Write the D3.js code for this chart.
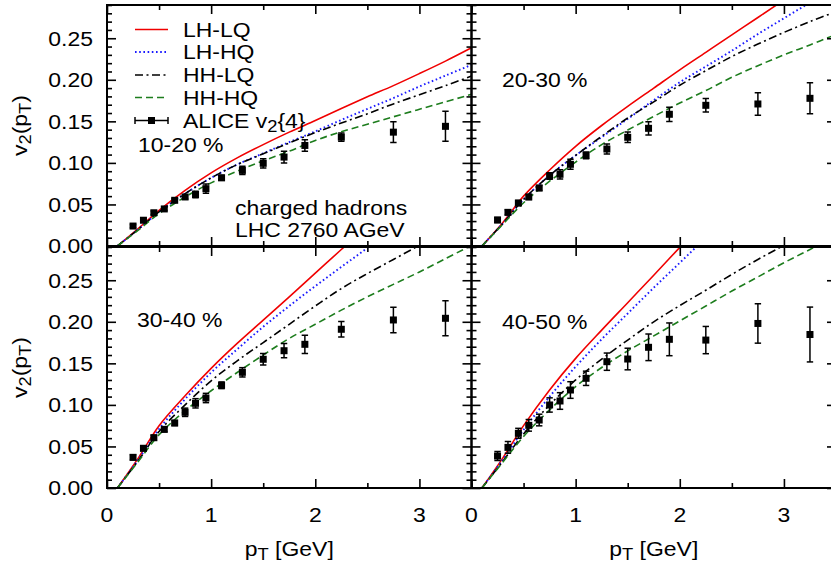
<!DOCTYPE html>
<html>
<head>
<meta charset="utf-8">
<script src="https://cdn.jsdelivr.net/npm/d3@7"></script>
<style>
  body { margin: 0; background: #fff; }
  text { font-family: "Liberation Sans", Arial, Helvetica, sans-serif; fill: #000; }
</style>
</head>
<body>
<svg id="chart" width="831" height="565"></svg>
<script>
// ALICE v2{4} transverse-momentum bins (GeV)
const alicePT = [0.25, 0.35, 0.45, 0.55, 0.65, 0.75, 0.85, 0.95, 1.1, 1.3, 1.5, 1.7, 1.9, 2.25, 2.75, 3.25];

// ALICE v2{4} values and errors per centrality class
const alice1020 = [0.024, 0.031, 0.040, 0.0446, 0.055, 0.059, 0.062, 0.069, 0.082, 0.091, 0.0995, 0.107, 0.121, 0.131, 0.137, 0.144];
const err1020   = [0.002, 0.002, 0.002, 0.002, 0.002, 0.0025, 0.004, 0.0055, 0.003, 0.005, 0.0055, 0.007, 0.007, 0.005, 0.0125, 0.018];
const alice2030 = [0.0313, 0.0405, 0.0517, 0.059, 0.0698, 0.0842, 0.0863, 0.0983, 0.109, 0.1167, 0.1308, 0.1416, 0.1585, 0.1693, 0.1709, 0.1777];
const err2030   = [0.003, 0.003, 0.003, 0.003, 0.003, 0.004, 0.0056, 0.006, 0.004, 0.006, 0.0064, 0.008, 0.0086, 0.0082, 0.0136, 0.0187];
const alice3040 = [0.0369, 0.0478, 0.0605, 0.0706, 0.0782, 0.0911, 0.1019, 0.1083, 0.1236, 0.1392, 0.1549, 0.1652, 0.1729, 0.191, 0.2022, 0.2042];
const err3040   = [0.003, 0.003, 0.003, 0.003, 0.003, 0.005, 0.0056, 0.0056, 0.004, 0.0056, 0.007, 0.0086, 0.011, 0.0094, 0.0154, 0.021];
const alice4050 = [0.0385, 0.0489, 0.0658, 0.0754, 0.0818, 0.0999, 0.1047, 0.1179, 0.132, 0.152, 0.1552, 0.1693, 0.1789, 0.178, 0.198, 0.1847];
const err4050   = [0.0054, 0.007, 0.006, 0.007, 0.007, 0.0086, 0.01, 0.01, 0.0086, 0.0104, 0.013, 0.016, 0.0197, 0.0164, 0.0237, 0.033];

// hydro calculations, sampled on a common pT grid
const curvePT = [0.1, 0.3, 0.5, 0.75, 1.0, 1.25, 1.5, 1.75, 2.0, 2.25, 2.5, 2.75, 3.0, 3.25, 3.5];

const lhlq1020 = [0, 0.021, 0.043, 0.067, 0.088, 0.106, 0.122, 0.137, 0.151, 0.1655, 0.1795, 0.193, 0.2075, 0.2225, 0.2385];
const lhhq1020 = [0, 0.020, 0.041, 0.063, 0.082, 0.098, 0.1115, 0.125, 0.138, 0.1517, 0.165, 0.178, 0.192, 0.205, 0.218];
const hhlq1020 = [0, 0.020, 0.041, 0.063, 0.082, 0.098, 0.111, 0.124, 0.1365, 0.148, 0.159, 0.171, 0.182, 0.193, 0.2045];
const hhhq1020 = [0, 0.019, 0.039, 0.059, 0.076, 0.090, 0.1025, 0.114, 0.127, 0.1375, 0.1465, 0.1555, 0.1645, 0.1735, 0.1825];

const lhlq2030 = [0, 0.028, 0.060, 0.0915, 0.120, 0.145, 0.168, 0.190, 0.212, 0.233, 0.254, 0.275, 0.296, 0.317, 0.338];
const lhhq2030 = [0, 0.027, 0.056, 0.085, 0.109, 0.131, 0.153, 0.1755, 0.197, 0.216, 0.235, 0.255, 0.274, 0.293, 0.312];
const hhlq2030 = [0, 0.027, 0.056, 0.085, 0.109, 0.132, 0.154, 0.1735, 0.1935, 0.211, 0.228, 0.243, 0.257, 0.270, 0.282];
const hhhq2030 = [0, 0.026, 0.052, 0.078, 0.101, 0.122, 0.1395, 0.156, 0.172, 0.187, 0.203, 0.217, 0.230, 0.242, 0.2545];

const lhlq3040 = [0, 0.036, 0.075, 0.111, 0.144, 0.174, 0.202, 0.230, 0.2585, 0.287, 0.315, 0.343, 0.370, 0.400, 0.430];
const lhhq3040 = [0, 0.034, 0.071, 0.107, 0.139, 0.167, 0.194, 0.219, 0.243, 0.266, 0.289, 0.313, 0.337, 0.361, 0.385];
const hhlq3040 = [0, 0.033, 0.068, 0.100, 0.129, 0.153, 0.175, 0.197, 0.219, 0.240, 0.258, 0.275, 0.292, 0.309, 0.326];
const hhhq3040 = [0, 0.032, 0.064, 0.093, 0.117, 0.139, 0.160, 0.180, 0.197, 0.214, 0.230, 0.245, 0.260, 0.276, 0.292];

const lhlq4050 = [0, 0.036, 0.075, 0.118, 0.156, 0.190, 0.223, 0.256, 0.2896, 0.323, 0.356, 0.390, 0.420, 0.450, 0.480];
const lhhq4050 = [0, 0.034, 0.070, 0.110, 0.146, 0.179, 0.210, 0.241, 0.271, 0.301, 0.330, 0.360, 0.390, 0.420, 0.450];
const hhlq4050 = [0, 0.032, 0.065, 0.100, 0.130, 0.155, 0.178, 0.200, 0.2195, 0.238, 0.257, 0.275, 0.292, 0.309, 0.326];
const hhhq4050 = [0, 0.031, 0.062, 0.094, 0.122, 0.145, 0.165, 0.183, 0.201, 0.219, 0.237, 0.254, 0.271, 0.287, 0.303];

// axis ticks
const yMajor = [0, 0.05, 0.10, 0.15, 0.20, 0.25];
const yMinor = d3.range(0, 30).map(i => i / 100).filter(v => Math.round(v * 100) % 5 !== 0);
const xMajor = [0, 1, 2, 3];
const xMinor = [0.5, 1.5, 2.5, 3.5];

const seriesNames = ["LH-LQ", "LH-HQ", "HH-LQ", "HH-HQ"];
const seriesStyle = [
  { color: "#f00000", dash: null,          width: 1.6 },
  { color: "#1a1aff", dash: "1.6,2.6",     width: 1.9 },
  { color: "#000000", dash: "8,3.5,2,3.5", width: 1.6 },
  { color: "#1d7d1d", dash: "7,4",         width: 1.6 }
];

const centralities = ["10-20 %", "20-30 %", "30-40 %", "40-50 %"];
const aliceValues = [alice1020, alice2030, alice3040, alice4050];
const aliceErrors = [err1020, err2030, err3040, err4050];
const curveSets = [
  [lhlq1020, lhhq1020, hhlq1020, hhhq1020],
  [lhlq2030, lhhq2030, hhlq2030, hhhq2030],
  [lhlq3040, lhhq3040, hhlq3040, hhhq3040],
  [lhlq4050, lhhq4050, hhlq4050, hhhq4050]
];

// layout
const FS = 20.5;       // font size
const SX = 1.12;       // horizontal glyph stretch
const panelW = 364.5, panelH = 241;
const panelX = [107, 471.5];
const panelY = [5, 247];
const labelPos = [[138, 145], [502, 80], [137, 320], [502, 322]];

const svg = d3.select("#chart");
const defs = svg.append("defs");

// text placed at (x, y) with its baseline at y, glyphs widened by SX
function label(parent, x, y, anchor, rotate) {
  const rot = rotate ? ` rotate(${rotate})` : "";
  return parent.append("text")
    .attr("transform", `translate(${x},${y})${rot} scale(${SX},1)`)
    .attr("text-anchor", anchor || "start")
    .attr("font-size", FS);
}
function sub(t, s) {
  t.append("tspan").attr("baseline-shift", "-25%").attr("font-size", FS * 0.8).text(s);
}

function inwardTicks(g, axis) {
  g.call(axis);
  g.select(".domain").remove();
  g.selectAll(".tick line").attr("stroke", "#000").attr("stroke-width", 1.6);
  g.selectAll(".tick text").remove();
}

const BASE = 0.36 * FS;

for (let p = 0; p < 4; p++) {
  const col = p % 2, row = Math.floor(p / 2);
  const x0 = panelX[col], y0 = panelY[row];
  const x = d3.scaleLinear().domain([0, 3.5]).range([x0, x0 + panelW]);
  const y = d3.scaleLinear().domain([0, 0.29]).range([y0 + panelH, y0]);

  const clipId = "clip" + p;
  defs.append("clipPath").attr("id", clipId)
    .append("rect").attr("x", x0).attr("y", y0).attr("width", panelW).attr("height", panelH);

  const g = svg.append("g");

  // model curves
  const line = d3.line().x(d => x(d[0])).y(d => y(d[1])).curve(d3.curveCatmullRom.alpha(0.5));
  const cg = g.append("g").attr("clip-path", `url(#${clipId})`);
  curveSets[p].forEach((vals, i) => {
    const st = seriesStyle[i];
    cg.append("path")
      .datum(curvePT.map((t, k) => [t, vals[k]]))
      .attr("d", line)
      .attr("fill", "none")
      .attr("stroke", st.color)
      .attr("stroke-width", st.width)
      .attr("stroke-dasharray", st.dash);
  });

  // ALICE points with error bars
  const pts = alicePT.map((t, k) => ({ t, v: aliceValues[p][k], e: aliceErrors[p][k] }));
  const pg = g.append("g").attr("clip-path", `url(#${clipId})`);
  const pe = pg.selectAll("g.pt").data(pts).join("g").attr("class", "pt");
  pe.append("line")
    .attr("x1", d => x(d.t)).attr("x2", d => x(d.t))
    .attr("y1", d => y(d.v - d.e)).attr("y2", d => y(d.v + d.e))
    .attr("stroke", "#000").attr("stroke-width", 1.5);
  pe.append("line")
    .attr("x1", d => x(d.t) - 3.2).attr("x2", d => x(d.t) + 3.2)
    .attr("y1", d => y(d.v - d.e)).attr("y2", d => y(d.v - d.e))
    .attr("stroke", "#000").attr("stroke-width", 1.5);
  pe.append("line")
    .attr("x1", d => x(d.t) - 3.2).attr("x2", d => x(d.t) + 3.2)
    .attr("y1", d => y(d.v + d.e)).attr("y2", d => y(d.v + d.e))
    .attr("stroke", "#000").attr("stroke-width", 1.5);
  pe.append("rect")
    .attr("x", d => x(d.t) - 3.5).attr("y", d => y(d.v) - 3.5)
    .attr("width", 7).attr("height", 7).attr("fill", "#000");

  // ticks on all four sides, pointing inward
  const yb = y0 + panelH, xr = x0 + panelW;
  g.append("g").attr("transform", `translate(${x0},0)`).call(gg => inwardTicks(gg, d3.axisLeft(y).tickValues(yMajor).tickSize(-9)));
  g.append("g").attr("transform", `translate(${x0},0)`).call(gg => inwardTicks(gg, d3.axisLeft(y).tickValues(yMinor).tickSize(-5)));
  g.append("g").attr("transform", `translate(${xr},0)`).call(gg => inwardTicks(gg, d3.axisRight(y).tickValues(yMajor).tickSize(-9)));
  g.append("g").attr("transform", `translate(${xr},0)`).call(gg => inwardTicks(gg, d3.axisRight(y).tickValues(yMinor).tickSize(-5)));
  g.append("g").attr("transform", `translate(0,${yb})`).call(gg => inwardTicks(gg, d3.axisBottom(x).tickValues(xMajor).tickSize(-9)));
  g.append("g").attr("transform", `translate(0,${yb})`).call(gg => inwardTicks(gg, d3.axisBottom(x).tickValues(xMinor).tickSize(-5)));
  g.append("g").attr("transform", `translate(0,${y0})`).call(gg => inwardTicks(gg, d3.axisTop(x).tickValues(xMajor).tickSize(-9)));
  g.append("g").attr("transform", `translate(0,${y0})`).call(gg => inwardTicks(gg, d3.axisTop(x).tickValues(xMinor).tickSize(-5)));

  // frame
  g.append("rect").attr("x", x0).attr("y", y0).attr("width", panelW).attr("height", panelH)
    .attr("fill", "none").attr("stroke", "#000").attr("stroke-width", 2);

  // tick labels and axis titles
  if (col === 0) {
    yMajor.forEach(v => label(g, x0 - 14, y(v) + BASE, "end").text(d3.format(".2f")(v)));
    const yl = label(g, 27, y0 + panelH / 2, "middle", -90);
    yl.append("tspan").text("v");
    sub(yl, "2");
    yl.append("tspan").text("(p");
    sub(yl, "T");
    yl.append("tspan").text(")");
  }
  if (row === 1) {
    xMajor.forEach(v => label(g, x(v), yb + 27 + BASE, "middle").text(v));
    const xl = label(g, x0 + panelW / 2, 556, "middle");
    xl.append("tspan").text("p");
    sub(xl, "T");
    xl.append("tspan").text(" [GeV]");
  }

  // centrality label
  label(g, labelPos[p][0], labelPos[p][1] + BASE).text(centralities[p]);
}

// collision system annotation
label(svg, 235, 208 + BASE).text("charged hadrons");
label(svg, 235, 230 + BASE).text("LHC 2760 AGeV");

// legend
const legendRows = [29.5, 52, 75, 97.5, 120.5];
const lg = svg.append("g");
seriesNames.forEach((name, i) => {
  const st = seriesStyle[i];
  lg.append("line").attr("x1", 135).attr("x2", 168).attr("y1", legendRows[i]).attr("y2", legendRows[i])
    .attr("stroke", st.color).attr("stroke-width", st.width).attr("stroke-dasharray", st.dash);
  label(lg, 183, legendRows[i] + BASE).text(name);
});
{
  const ly = legendRows[4];
  lg.append("line").attr("x1", 135).attr("x2", 168).attr("y1", ly).attr("y2", ly).attr("stroke", "#000").attr("stroke-width", 1.5);
  lg.append("line").attr("x1", 135).attr("x2", 135).attr("y1", ly - 3.5).attr("y2", ly + 3.5).attr("stroke", "#000").attr("stroke-width", 1.5);
  lg.append("line").attr("x1", 168).attr("x2", 168).attr("y1", ly - 3.5).attr("y2", ly + 3.5).attr("stroke", "#000").attr("stroke-width", 1.5);
  lg.append("rect").attr("x", 151.5 - 3.5).attr("y", ly - 3.5).attr("width", 7).attr("height", 7).attr("fill", "#000");
  const t = label(lg, 183, ly + BASE);
  t.append("tspan").text("ALICE v");
  sub(t, "2");
  t.append("tspan").text("{4}");
}
</script>
</body>
</html>
